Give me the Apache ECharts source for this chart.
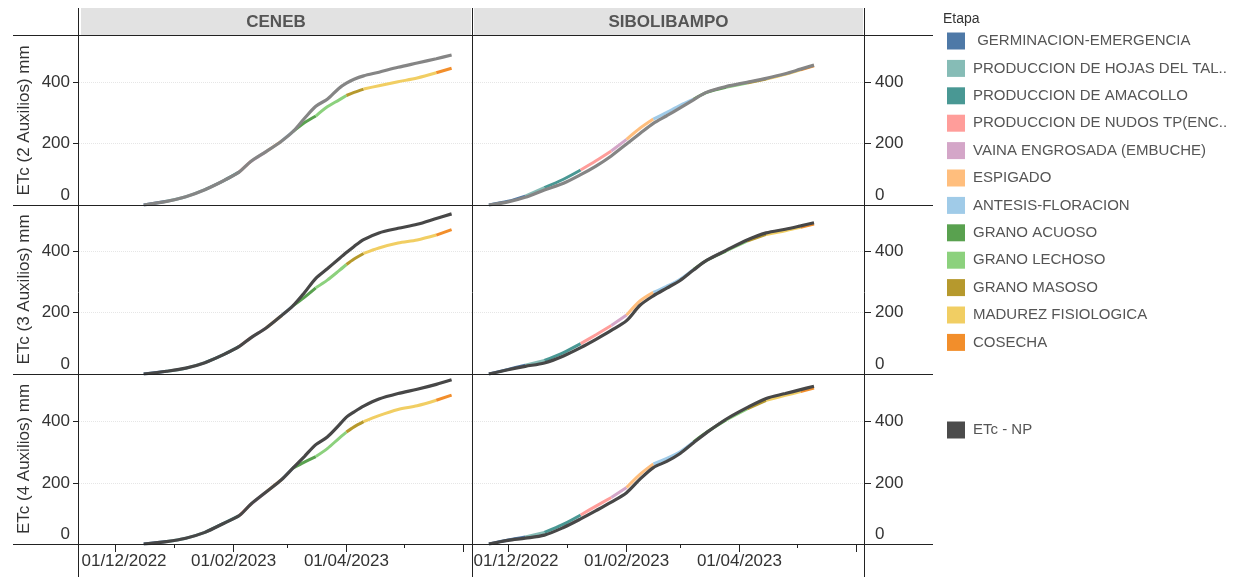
<!DOCTYPE html>
<html>
<head>
<meta charset="utf-8">
<script src="https://cdn.jsdelivr.net/npm/echarts@6/dist/echarts.min.js"></script>
<style>
  html, body { margin: 0; padding: 0; background: #ffffff; }
  #chart { width: 1236px; height: 577px; }
</style>
</head>
<body>
<div id="chart"></div>
<script>
// ---- Datos ----
const sitios = ['CENEB', 'SIBOLIBAMPO'];
const filas = ['ETc (2 Auxilios) mm', 'ETc (3 Auxilios) mm', 'ETc (4 Auxilios) mm'];
const etapas = [
  ' GERMINACION-EMERGENCIA', 'PRODUCCION DE HOJAS DEL TAL..', 'PRODUCCION DE AMACOLLO',
  'PRODUCCION DE NUDOS TP(ENC..', 'VAINA ENGROSADA (EMBUCHE)', 'ESPIGADO', 'ANTESIS-FLORACION',
  'GRANO ACUOSO', 'GRANO LECHOSO', 'GRANO MASOSO', 'MADUREZ FISIOLOGICA', 'COSECHA'
];
const coloresEtapa = [
  '#4e79a7', '#86bcb6', '#499894', '#ff9d9a', '#d4a6c8', '#ffbe7d',
  '#a0cbe8', '#59a14f', '#8cd17d', '#b6992d', '#f1ce63', '#f28e2b'
];
const serieNP = 'ETc - NP';
const legendaTitulo = 'Etapa';

// Ejes
const yTicks = [0, 200, 400];
const xMarcas = ['2022-12-01', '2023-02-01', '2023-04-01', '2023-06-01'];
const xMarcasMenores = ['2023-01-01', '2023-03-01', '2023-05-01'];
const xEtiquetas = ['2022-12-01', '2023-02-01', '2023-04-01'];

// CENEB
const fechasCeneb = ['2022-12-16','2022-12-28','2023-01-07','2023-01-17','2023-01-27','2023-02-04','2023-02-10',
  '2023-02-18','2023-02-26','2023-03-04','2023-03-10','2023-03-16','2023-03-22','2023-03-28','2023-04-01',
  '2023-04-05','2023-04-10','2023-04-18','2023-04-28','2023-05-08','2023-05-18','2023-05-26'];
const etapaCeneb = [0,1,1,2,2,3,4,5,6,7,7,8,8,8,9,9,10,10,10,10,11,11];
const npCeneb2  = [0,12,27,50,80,108,142,174,208,239,282,322,345,380,397,410,421,433,449,463,477,489];
const etcCeneb2 = [0,12,27,50,80,108,142,174,208,239,268,290,320,342,357,367,378,389,402,414,431,446];
const npCeneb3  = [0,9,19,37,64,90,118,150,190,222,265,312,343,375,396,416,438,460,475,488,507,522];
const etcCeneb3 = [0,9,19,37,64,90,118,150,190,222,250,281,306,336,357,375,393,411,427,437,453,471];
const npCeneb4  = [0,8,19,38,68,93,130,170,210,248,286,325,350,388,415,432,451,474,492,506,522,537];
const etcCeneb4 = [0,8,19,38,68,93,130,170,210,248,268,286,312,345,366,383,400,420,440,452,470,487];

// SIBOLIBAMPO
const fechasSib = ['2022-11-21','2022-12-01','2022-12-10','2022-12-20','2022-12-30','2023-01-08','2023-01-16',
  '2023-01-24','2023-02-01','2023-02-08','2023-02-15','2023-02-22','2023-03-01','2023-03-08','2023-03-15',
  '2023-03-25','2023-04-05','2023-04-15','2023-04-25','2023-05-03','2023-05-10'];
const etapaSib = [0,0,1,2,2,3,3,4,5,5,6,6,6,7,7,8,9,10,10,11,11];
const npSib2  = [0,10,25,49,71,99,127,160,199,233,266,291,317,343,368,386,400,413,428,443,456];
const etcSib2 = [0,12,29,57,84,114,144,176,214,250,280,302,325,345,367,384,398,411,426,441,454];
const npSib3  = [0,14,25,36,59,86,113,142,174,224,255,280,305,339,371,403,437,460,472,483,493];
const etcSib3 = [0,15,29,44,70,99,128,158,192,238,266,286,309,341,371,401,433,455,467,478,489];
const npSib4  = [0,12,19,29,54,82,109,137,168,212,250,270,296,331,365,408,446,476,492,505,516];
const etcSib4 = [0,13,23,38,65,95,124,152,185,228,262,280,302,334,366,406,442,470,486,499,510];

// ---- Construcción ----
const paneles = [
  { fechas: fechasCeneb, etapa: etapaCeneb, np: npCeneb2, etc: etcCeneb2 },
  { fechas: fechasSib,   etapa: etapaSib,   np: npSib2,   etc: etcSib2 },
  { fechas: fechasCeneb, etapa: etapaCeneb, np: npCeneb3, etc: etcCeneb3 },
  { fechas: fechasSib,   etapa: etapaSib,   np: npSib3,   etc: etcSib3 },
  { fechas: fechasCeneb, etapa: etapaCeneb, np: npCeneb4, etc: etcCeneb4 },
  { fechas: fechasSib,   etapa: etapaSib,   np: npSib4,   etc: etcSib4 }
];

function ts(s) {
  const p = s.split('-').map(Number);
  return Date.UTC(p[0], p[1] - 1, p[2]);
}
function pad(n) { return (n < 10 ? '0' : '') + n; }
function fmtFecha(v) {
  const d = new Date(v);
  return pad(d.getUTCDate()) + '/' + pad(d.getUTCMonth() + 1) + '/' + d.getUTCFullYear();
}
// Puntos de una etapa más el primero de la siguiente, para que el trazo sea continuo
function tramo(p, k) {
  const out = [];
  for (let i = 0; i < p.fechas.length; i++) {
    if (p.etapa[i] === k || (i > 0 && p.etapa[i - 1] === k)) out.push([ts(p.fechas[i]), p.etc[i]]);
  }
  return out;
}

const FONT = 'Liberation Sans, Arial, sans-serif';
const colX = [79, 472];
const colW = 393;
const rowTop = [36, 205, 374];
const rowH = [169, 169, 170];
const yMax = [551, 551, 556];
const xMin = Date.UTC(2022, 10, 12, 4);
const xMax = Date.UTC(2023, 5, 5, 16);
const primeraEtiqueta = ts(xEtiquetas[0]);

const grid = [], xAxis = [], yAxis = [], series = [];

for (let r = 0; r < 3; r++) {
  for (let c = 0; c < 2; c++) {
    const gi = r * 2 + c;
    const p = paneles[gi];
    const bottom = r === 2;
    grid.push({ left: colX[c], top: rowTop[r], width: colW, height: rowH[r], containLabel: false, outerBoundsMode: 'none' });

    xAxis.push({
      type: 'value', gridIndex: gi, min: xMin, max: xMax, position: 'bottom',
      axisLine: { show: false }, splitLine: { show: false },
      axisTick: { show: bottom, customValues: xMarcas.map(ts), length: 8, lineStyle: { color: '#222' } },
      axisLabel: {
        show: bottom, customValues: xEtiquetas.map(ts), margin: 9,
        fontFamily: FONT, fontSize: 17, color: '#333',
        formatter: function (v) {
          return v === primeraEtiqueta ? '{p|' + fmtFecha(v) + '}' : fmtFecha(v);
        },
        rich: { p: { fontFamily: FONT, fontSize: 17, color: '#333', padding: [0, 0, 0, c === 0 ? 18 : 16] } }
      }
    });
    xAxis.push({
      type: 'value', gridIndex: gi, min: xMin, max: xMax, position: 'bottom',
      axisLine: { show: false }, splitLine: { show: false }, axisLabel: { show: false },
      axisTick: { show: bottom, customValues: xMarcasMenores.map(ts), length: 4, lineStyle: { color: '#222' } }
    });

    yAxis.push({
      type: 'value', gridIndex: gi, min: 0, max: yMax[r], position: c === 0 ? 'left' : 'right',
      axisLine: { show: false },
      splitLine: { show: true, lineStyle: { color: '#e6e6e6', type: 'dotted' } },
      axisTick: { show: true, customValues: yTicks, length: 6, lineStyle: { color: '#222' } },
      axisLabel: {
        customValues: yTicks, margin: c === 0 ? 9 : 10,
        fontFamily: FONT, fontSize: 17, color: '#333',
        formatter: function (v) { return v === 0 ? '{z|0}' : String(v); },
        rich: { z: { fontFamily: FONT, fontSize: 17, color: '#333', padding: [0, 0, 20, 0] } }
      },
      name: c === 0 ? filas[r] : '', nameLocation: 'middle', nameGap: 46,
      nameTextStyle: { fontFamily: FONT, fontSize: 17, color: '#333' }
    });

    // Trazo por etapa fenológica
    for (let k = 0; k < etapas.length; k++) {
      const d = tramo(p, k);
      if (!d.length) continue;
      series.push({
        type: 'line', name: etapas[k], xAxisIndex: gi * 2, yAxisIndex: gi,
        data: d, showSymbol: false, smooth: 0.3, silent: true, z: 2,
        color: coloresEtapa[k],
        lineStyle: { width: 3, color: coloresEtapa[k] }
      });
    }
    // ETc del sistema NP
    series.push({
      type: 'line', name: serieNP, xAxisIndex: gi * 2, yAxisIndex: gi,
      data: p.fechas.map((f, i) => [ts(f), p.np[i]]),
      showSymbol: false, smooth: 0.3, silent: true, z: 3,
      color: r === 0 ? '#858585' : '#474747',
      lineStyle: { width: 3.2, color: r === 0 ? '#858585' : '#474747' }
    });
  }
}

// Marco y encabezados
const graphic = [];
[[81, 390], [474, 389]].forEach(function (h, i) {
  graphic.push({ type: 'rect', shape: { x: h[0], y: 8, width: h[1], height: 27 }, style: { fill: '#e2e2e2' }, z: 0 });
  graphic.push({
    type: 'text', x: h[0] + h[1] / 2, y: 22, z: 1,
    style: { text: sitios[i], font: 'bold 17px ' + FONT, fill: '#555', align: 'center', verticalAlign: 'middle' }
  });
});
[35.5, 205.5, 374.5, 544.5].forEach(function (y) {
  graphic.push({ type: 'line', shape: { x1: 13, y1: y, x2: 933, y2: y }, style: { stroke: '#222', lineWidth: 1 }, z: 5 });
});
[78.5, 472.5, 864.5].forEach(function (x) {
  graphic.push({ type: 'line', shape: { x1: x, y1: 8, x2: x, y2: 577 }, style: { stroke: '#222', lineWidth: 1 }, z: 5 });
});
graphic.push({
  type: 'text', x: 943, y: 19,
  style: { text: legendaTitulo, font: '14px ' + FONT, fill: '#333', verticalAlign: 'middle' }
});

const option = {
  animation: false,
  backgroundColor: '#ffffff',
  textStyle: { fontFamily: FONT },
  grid: grid, xAxis: xAxis, yAxis: yAxis, series: series,
  graphic: graphic,
  legend: [
    {
      data: etapas.map((n, i) => ({ name: n, itemStyle: { color: coloresEtapa[i] } })),
      orient: 'vertical', left: 942, top: 27.5, itemWidth: 18, itemHeight: 17, itemGap: 10.4,
      icon: 'rect', selectedMode: false,
      textStyle: { fontFamily: FONT, fontSize: 15, color: '#555', lineHeight: 17, padding: [0, 0, 0, 3] }
    },
    {
      data: [{ name: serieNP, itemStyle: { color: '#4b4b4b' } }],
      orient: 'vertical', left: 942, top: 416.5, itemWidth: 18, itemHeight: 17,
      icon: 'rect', selectedMode: false,
      textStyle: { fontFamily: FONT, fontSize: 15, color: '#555', lineHeight: 17, padding: [0, 0, 0, 3] }
    }
  ]
};

const chart = echarts.init(document.getElementById('chart'), null, { renderer: 'canvas' });
chart.setOption(option);
</script>
</body>
</html>
